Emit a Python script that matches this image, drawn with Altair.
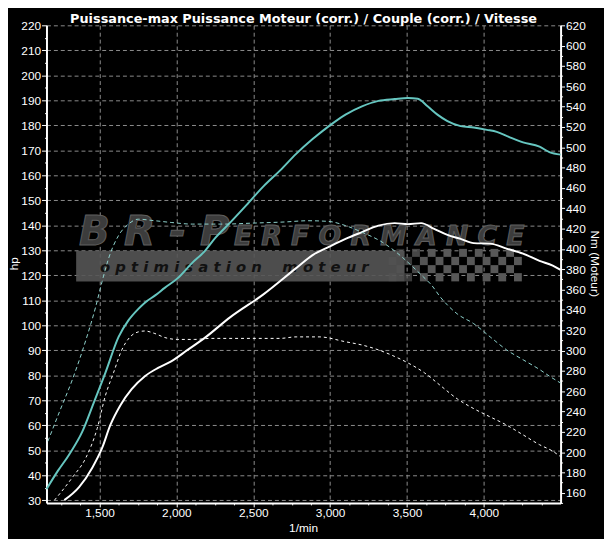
import altair as alt
import pandas as pd

# ---------------- data ----------------
# Puissance (hp) - courbe optimisée (cyan, trait plein)
rpm_pw_opt = [1156, 1229, 1303, 1388, 1464, 1538, 1624, 1688, 1751, 1795, 1862, 1924, 2009,
              2103, 2180, 2253, 2351, 2454, 2566, 2675, 2779, 2886, 2992, 3100, 3207, 3314,
              3420, 3506, 3570, 3634, 3698, 3763, 3849, 3934, 4020, 4084, 4169, 4255, 4362,
              4426, 4499]
hp_opt = [34.6, 41.8, 48.4, 57.5, 69.3, 81.0, 95.4, 102.0, 106.5, 109.1, 112.0, 115.0, 118.9,
          125.0, 129.4, 135.0, 141.2, 148.0, 155.6, 162.0, 168.6, 174.5, 179.7, 184.3, 187.6,
          189.8, 190.5, 190.9, 190.6, 187.6, 184.3, 181.7, 179.7, 179.1, 178.2, 177.4, 175.2,
          173.2, 171.5, 169.3, 168.3]

# Puissance (hp) - courbe d'origine (blanc, trait plein)
rpm_pw_ori = [1271, 1367, 1453, 1517, 1570, 1635, 1709, 1795, 1881, 1966, 2073, 2180, 2351,
              2566, 2779, 2886, 2992, 3100, 3207, 3314, 3420, 3506, 3592, 3677, 3763, 3849,
              3934, 4041, 4148, 4255, 4362, 4448, 4499]
hp_ori = [30.1, 35.3, 43.1, 51.0, 60.1, 68.0, 74.5, 79.7, 83.0, 85.6, 90.2, 94.8, 103.3,
          112.4, 122.9, 128.1, 131.4, 134.6, 137.3, 139.9, 140.9, 140.5, 140.9, 138.6, 136.2,
          134.6, 132.9, 132.7, 130.7, 128.7, 125.8, 123.9, 122.2]

# Couple (Nm) - courbe optimisée (cyan, pointillé)
rpm_tq_opt = [1164, 1239, 1324, 1411, 1474, 1517, 1559, 1624, 1688, 1752, 1860, 1966, 2103,
              2303, 2504, 2705, 2856, 2992, 3100, 3207, 3338, 3428, 3519, 3609, 3656, 3720,
              3827, 3934, 4041, 4148, 4255, 4362, 4426, 4499]
nm_opt = [210.6, 239.5, 271.6, 310.2, 342.4, 368.1, 390.6, 413.2, 424.4, 429.2, 427.7, 426.0,
          424.4, 424.4, 425.4, 426.5, 427.7, 427.0, 422.9, 416.4, 406.7, 397.0, 385.0, 372.0,
          365.0, 352.0, 336.0, 326.4, 313.4, 300.6, 290.9, 281.3, 274.8, 268.0]

# Couple (Nm) - courbe d'origine (blanc, pointillé)
rpm_tq_ori = [1207, 1324, 1411, 1485, 1538, 1591, 1645, 1699, 1752, 1795, 1860, 1924, 2009,
              2116, 2222, 2404, 2672, 2779, 2928, 3100, 3207, 3314, 3420, 3506, 3613, 3720,
              3827, 3934, 4020, 4148, 4255, 4362, 4448, 4499]
nm_ori = [152.7, 175.2, 194.4, 223.4, 255.5, 278.1, 300.6, 313.4, 318.3, 319.2, 316.7, 312.8,
          310.9, 310.9, 311.9, 311.9, 311.9, 313.4, 313.4, 308.6, 305.4, 300.6, 294.1, 287.8,
          278.1, 265.2, 252.4, 242.8, 236.2, 226.6, 217.0, 207.3, 200.9, 195.5]

# axes
x_domain = [1155, 4499]
hp_domain = [29, 220]
nm_domain = [150, 620]
x_ticks = list(range(1250, 4376, 125))
hp_ticks = list(range(30, 221, 5))
nm_ticks = list(range(150, 621, 10))

# watermark (BR-Performance logo), in data coordinates
NB = "\u00a0"
logo_bar_rpm = [1348, 3484]
logo_bar_hp = [117.6, 129.8]
logo_big = ["B R - P", "E R F O R M A N C E"]
logo_big_rpm = [1367, 2374]
logo_big_hp = [132.1, 132.1]
logo_sub = NB.join("optimisation") + NB * 4 + NB.join("moteur")
logo_sub_pos = [2377, 123.5]
flag_col_start = 3380
flag_col_step = 51
flag_ncols = 17
flag_rows = [117.6, 120.9, 124.1, 127.4, 130.6]

# ---------------- chart ----------------
FONT = "Liberation Sans"
GRID = "#8c8c8c"

xaxis = alt.Axis(
    values=x_ticks,
    labelExpr="datum.value % 500 === 0 ? format(datum.value, ',') : ''",
    tickSize={"condition": {"test": "datum.value % 500 === 0", "value": 4}, "value": 2},
    gridOpacity={"condition": {"test": "datum.value % 500 === 0", "value": 1}, "value": 0},
    grid=True, gridColor=GRID, gridDash=[4, 3], gridWidth=1,
    domainColor="white", domainWidth=2, tickColor="white", tickWidth=1,
    labelColor="white", labelFont=FONT, labelFontSize=12, labelPadding=1,
    labelFlush=False, labelOverlap=False, labelBound=False,
    title="1/min", titleColor="white", titleFont=FONT, titleFontSize=12,
    titleFontWeight="normal", titleX=260, titleY=25, titleBaseline="middle",
    titleAlign="center",
)
x_scale = alt.Scale(domain=x_domain, nice=False, zero=False)

hpaxis = alt.Axis(
    values=hp_ticks, orient="left",
    labelExpr="datum.value % 10 === 0 ? datum.value : ''",
    tickSize={"condition": {"test": "datum.value % 10 === 0", "value": 5}, "value": 2},
    gridOpacity={"condition": {"test": "datum.value % 10 === 0", "value": 1}, "value": 0},
    grid=True, gridColor=GRID, gridDash=[4, 3], gridWidth=1,
    domainColor="white", domainWidth=2, tickColor="white", tickWidth=1,
    labelColor="white", labelFont=FONT, labelFontSize=12, labelPadding=1,
    labelFlush=False, labelOverlap=False, labelBound=False,
    title="hp", titleColor="white", titleFont=FONT, titleFontSize=12,
    titleFontWeight="normal", titleX=-33, titleY=241, titleAngle=-90,
    titleBaseline="middle", titleAlign="center",
)
hp_scale = alt.Scale(domain=hp_domain, nice=False, zero=False)

nmaxis = alt.Axis(
    values=nm_ticks, orient="right",
    labelExpr="datum.value % 20 === 0 ? datum.value : ''",
    tickSize={"condition": {"test": "datum.value % 20 === 0", "value": 4}, "value": 2},
    grid=False,
    domainColor="white", domainWidth=2, tickColor="white", tickWidth=1,
    labelColor="white", labelFont=FONT, labelFontSize=12, labelPadding=1,
    labelFlush=False, labelOverlap=False, labelBound=False,
    title="Nm (Moteur)", titleColor="white", titleFont=FONT, titleFontSize=12,
    titleFontWeight="normal", titleX=34, titleY=241, titleAngle=90,
    titleBaseline="middle", titleAlign="center",
)
nm_scale = alt.Scale(domain=nm_domain, nice=False, zero=False)


def X(field):
    return alt.X(field, type="quantitative", scale=x_scale, axis=xaxis)


def YH(field):
    return alt.Y(field, type="quantitative", scale=hp_scale, axis=hpaxis)


def YN(field):
    return alt.Y(field, type="quantitative", scale=nm_scale, axis=nmaxis)


# logo pieces
bar_df = pd.DataFrame({"r0": [logo_bar_rpm[0]], "r1": [logo_bar_rpm[1]],
                       "h0": [logo_bar_hp[0]], "h1": [logo_bar_hp[1]]})
bar = alt.Chart(bar_df).mark_rect(color="#555555", opacity=0.9).encode(
    x=X("r0"), x2="r1", y=YH("h0"), y2="h1")

cells = []
for i in range(flag_ncols):
    for j in range(len(flag_rows) - 1):
        if (i + j) % 2 == 0:
            op = min(1.0, 0.35 + 0.15 * i)
            cells.append({"r0": flag_col_start + i * flag_col_step,
                          "r1": flag_col_start + (i + 1) * flag_col_step,
                          "h0": flag_rows[j], "h1": flag_rows[j + 1], "op": op})
flag = alt.Chart(pd.DataFrame(cells)).mark_rect(color="#585858").encode(
    x=X("r0"), x2="r1", y=YH("h0"), y2="h1",
    opacity=alt.Opacity("op:Q", scale=None, legend=None))

big1 = alt.Chart(pd.DataFrame({"r": [logo_big_rpm[0]], "h": [logo_big_hp[0]], "t": [logo_big[0]]})).mark_text(
    font="DejaVu Sans", fontSize=41, fontWeight="bold", fontStyle="italic", align="left",
    baseline="alphabetic", color="#3c3c3c", stroke="#5e5e5e", strokeWidth=1).encode(
    x=X("r"), y=YH("h"), text="t:N")
big2 = alt.Chart(pd.DataFrame({"r": [logo_big_rpm[1]], "h": [logo_big_hp[1]], "t": [logo_big[1]]})).mark_text(
    font="DejaVu Sans", fontSize=27, fontWeight="bold", fontStyle="italic", align="left",
    baseline="alphabetic", color="#3c3c3c", stroke="#5e5e5e", strokeWidth=1).encode(
    x=X("r"), y=YH("h"), text="t:N")
sub = alt.Chart(pd.DataFrame({"r": [logo_sub_pos[0]], "h": [logo_sub_pos[1]], "t": [logo_sub]})).mark_text(
    font="DejaVu Sans", fontSize=15, fontWeight="bold", fontStyle="italic", align="center",
    baseline="middle", color="#111111").encode(
    x=X("r"), y=YH("h"), text="t:N")

# curves
pw_opt_df = pd.DataFrame({"rpm": rpm_pw_opt, "hp": hp_opt})
pw_ori_df = pd.DataFrame({"rpm": rpm_pw_ori, "hp": hp_ori})
tq_opt_df = pd.DataFrame({"rpm": rpm_tq_opt, "nm": nm_opt})
tq_ori_df = pd.DataFrame({"rpm": rpm_tq_ori, "nm": nm_ori})

pw_opt = alt.Chart(pw_opt_df).mark_line(color="#66c6c0", strokeWidth=2, interpolate="monotone").encode(
    x=X("rpm"), y=YH("hp"))
pw_ori = alt.Chart(pw_ori_df).mark_line(color="#ffffff", strokeWidth=2, interpolate="monotone").encode(
    x=X("rpm"), y=YH("hp"))
tq_opt = alt.Chart(tq_opt_df).mark_line(color="#8fd3ce", strokeWidth=1, strokeDash=[4, 3],
                                        interpolate="monotone").encode(x=X("rpm"), y=YN("nm"))
tq_ori = alt.Chart(tq_ori_df).mark_line(color="#ffffff", strokeWidth=1, strokeDash=[3, 3],
                                        interpolate="monotone").encode(x=X("rpm"), y=YN("nm"))

left = alt.layer(bar, flag, big1, big2, sub, pw_opt, pw_ori)
right = alt.layer(tq_opt, tq_ori)

chart = alt.layer(left, right).resolve_scale(y="independent").properties(
    width=521, height=484,
    background="black",
    autosize=alt.AutoSizeParams(type="none"),
    padding={"left": 39, "top": 14, "right": 44, "bottom": 33},
    title=alt.TitleParams(
        "Puissance-max Puissance Moteur (corr.) / Couple (corr.) / Vitesse",
        color="white", font="DejaVu Sans", fontSize=13, fontWeight="bold",
        anchor="middle", frame="group", baseline="alphabetic", offset=0, dy=16.5),
).configure_view(strokeWidth=0)

chart.save("out.html", embed_options={"renderer": "svg", "actions": False})
